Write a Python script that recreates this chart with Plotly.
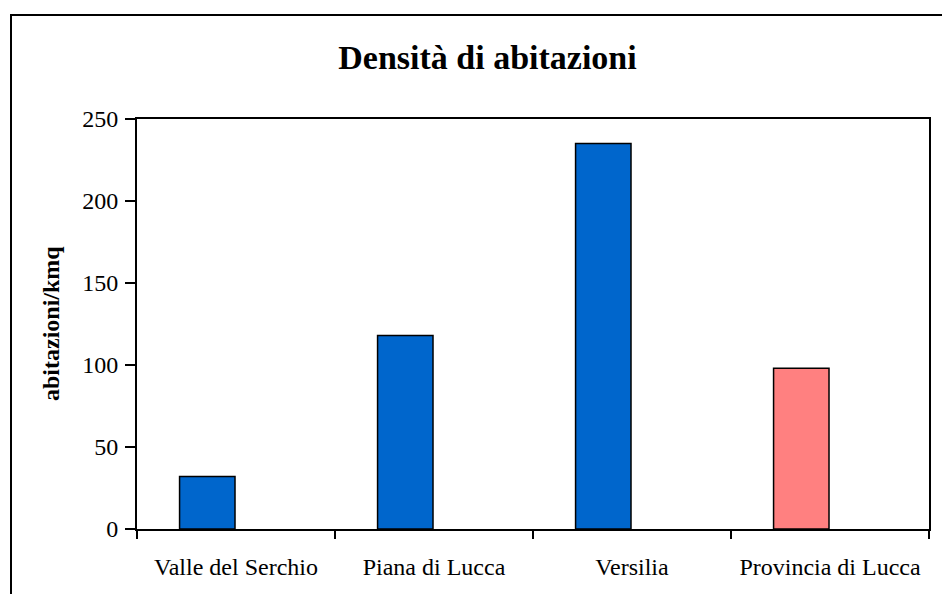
import plotly.graph_objects as go

# data
categories = ["Valle del Serchio", "Piana di Lucca", "Versilia", "Provincia di Lucca"]
densita = [32, 118, 235, 98]
bar_colors = ["#0066CC", "#0066CC", "#0066CC", "#FF8080"]
y_ticks = [0, 50, 100, 150, 200, 250]

FONT = "Liberation Serif, Times New Roman, serif"

# the page puts the figure 8px in from the top-left corner
PAGE_OFFSET = 8

fig = go.Figure()
fig.add_trace(
    go.Bar(
        x=categories,
        y=densita,
        marker=dict(color=bar_colors, line=dict(color="black", width=1.5)),
        width=0.28,
        offset=-0.285,
        showlegend=False,
    )
)

fig.update_layout(
    width=950,
    height=594,
    margin=dict(
        l=137 - PAGE_OFFSET,
        r=21 + PAGE_OFFSET,
        t=119 - PAGE_OFFSET,
        b=65 + PAGE_OFFSET,
    ),
    paper_bgcolor="white",
    plot_bgcolor="white",
    font=dict(family=FONT, size=24, color="black"),
    title=dict(
        text="<b>Densità di abitazioni</b>",
        font=dict(family=FONT, size=34, color="black"),
        xref="container",
        x=(487.5 - PAGE_OFFSET) / 950,
        xanchor="center",
        yref="container",
        y=1 - (57 - PAGE_OFFSET) / 594,
        yanchor="middle",
    ),
    xaxis=dict(
        type="category",
        tickson="boundaries",
        ticks="outside",
        ticklen=8,
        tickwidth=2,
        tickcolor="black",
        showline=True,
        linecolor="black",
        linewidth=2,
        mirror=True,
        showgrid=False,
        ticklabelstandoff=15,
        tickfont=dict(family=FONT, size=24),
    ),
    yaxis=dict(
        range=[0, 250],
        tickvals=y_ticks,
        ticks="outside",
        ticklen=10,
        tickwidth=2,
        tickcolor="black",
        showline=True,
        linecolor="black",
        linewidth=2,
        mirror=True,
        showgrid=False,
        zeroline=False,
        ticklabelstandoff=2,
        tickfont=dict(family=FONT, size=24),
    ),
)

# y axis title
fig.add_annotation(
    text="<b>abitazioni/kmq</b>",
    textangle=-90,
    xref="paper",
    yref="paper",
    x=(51 - 137) / 792,
    y=0.5,
    xanchor="center",
    yanchor="middle",
    showarrow=False,
    font=dict(family=FONT, size=24, color="black"),
)

# outer chart frame
fig.add_shape(
    type="rect",
    xref="paper",
    yref="paper",
    x0=(11 - 137) / 792,
    x1=(975 - 137) / 792,
    y0=(529 - 620) / 410,
    y1=(529 - 15) / 410,
    line=dict(color="black", width=2),
    fillcolor="rgba(0,0,0,0)",
    layer="below",
)

fig.write_html("out.html")
